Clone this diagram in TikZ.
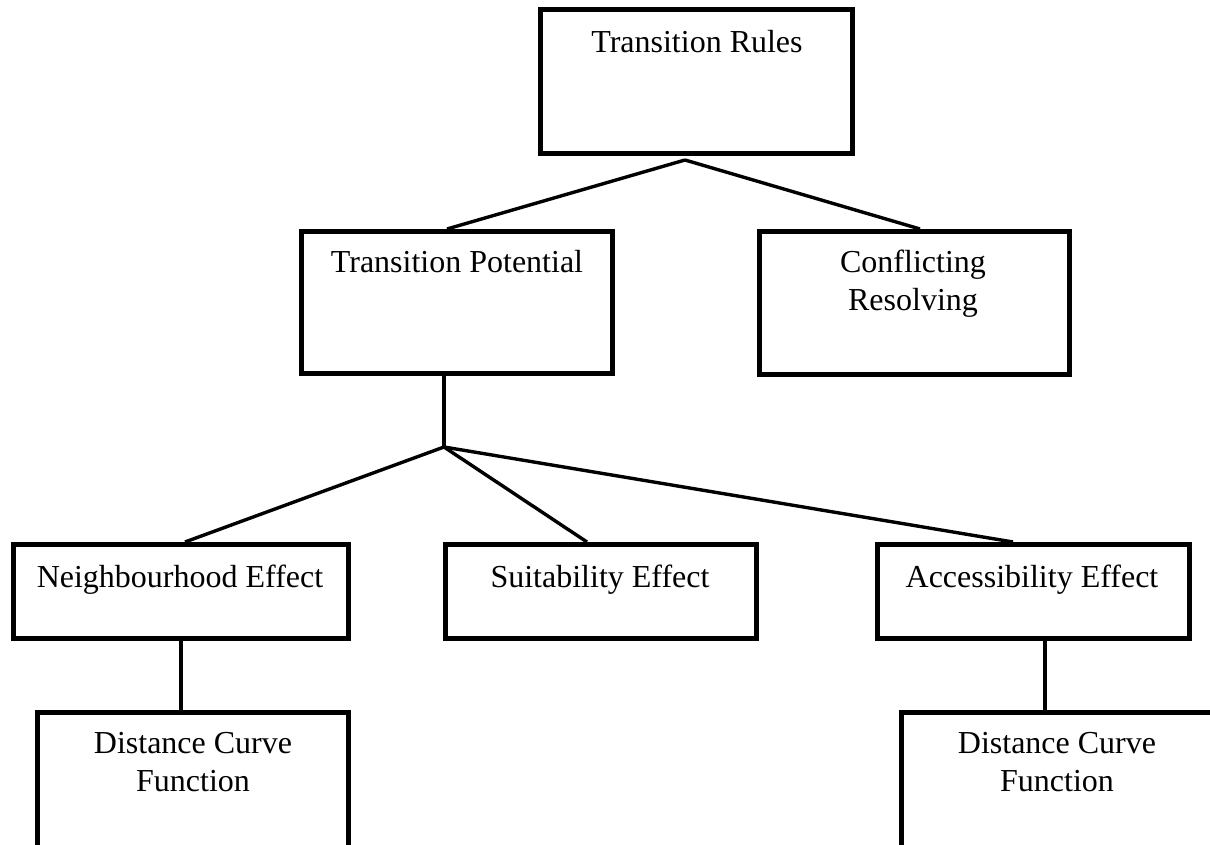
\documentclass[tikz,border=0pt]{standalone}
\usepackage{fontspec}
\setmainfont{Liberation Serif}
\usetikzlibrary{calc}
\begin{document}
\begin{tikzpicture}[x=0.5pt,y=-0.5pt,
  box/.style={draw=black, line width=2.5pt, rectangle, inner sep=0pt},
  lbl/.style={font=\fontsize{16}{19}\selectfont, inner sep=0pt, anchor=base, align=center},
  conn/.style={draw=black, line width=1.7pt}]
\useasboundingbox[fill=white] (0,0) rectangle (1210,845);
% boxes
\node[box, minimum width=156pt, minimum height=72pt] (rules) at (696.5,81.5) {};
\node[box, minimum width=155.5pt, minimum height=71pt] (potential) at (457,302.5) {};
\node[box, minimum width=155pt, minimum height=71.5pt] (conflict) at (914.5,303) {};
\node[box, minimum width=167.5pt, minimum height=47pt] (neigh) at (181,591.5) {};
\node[box, minimum width=155.5pt, minimum height=47pt] (suit) at (601,591.5) {};
\node[box, minimum width=156pt, minimum height=47pt] (access) at (1033.5,591.5) {};
\node[box, minimum width=155.5pt, minimum height=68.5pt] (dist1) at (193,781) {};
\node[box, minimum width=155.5pt, minimum height=68.5pt] (dist2) at (1057,781) {};
% texts (base anchor of two-line texts = last line)
\node[lbl] (rules-t) at (697,53) {Transition Rules};
\node[lbl] (potential-t) at (457,273) {Transition Potential};
\node[lbl] (conflict-t) at (913,311) {Conflicting\\Resolving};
\node[lbl] (neigh-t) at (180,587) {Neighbourhood Effect};
\node[lbl] (suit-t) at (600,587) {Suitability Effect};
\node[lbl] (access-t) at (1032,587) {Accessibility Effect};
\node[lbl] (dist1-t) at (193,791) {Distance Curve\\Function};
\node[lbl] (dist2-t) at (1057,791) {Distance Curve\\Function};
% junctions
\coordinate (j1) at ($(rules.south)+(-11.5,4)$);
\coordinate (j2) at (444,447);
% connectors
\draw[conn] (j1) -- ($(potential.north)+(-10,0)$);
\draw[conn] (j1) -- ($(conflict.north)+(5.5,0)$);
\draw[conn] ($(potential.south)+(-13,0)$) -- (j2);
\draw[conn] (j2) -- ($(neigh.north)+(4,0)$);
\draw[conn] (j2) -- ($(suit.north)+(-14,0)$);
\draw[conn] (j2) -- ($(access.north)+(-20.5,0)$);
\draw[conn] (neigh.south) -- (neigh.south |- dist1.north);
\draw[conn] ($(access.south)+(11.5,0)$) -- ($(access.south |- dist2.north)+(11.5,0)$);
\end{tikzpicture}
\end{document}
